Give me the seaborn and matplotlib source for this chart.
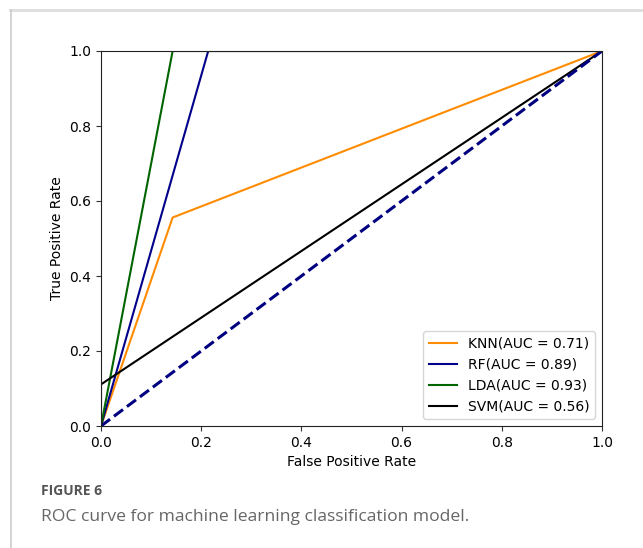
import matplotlib
matplotlib.use("Agg")
import matplotlib.pyplot as plt
from matplotlib.lines import Line2D
import seaborn as sns
import pandas as pd

# ROC data
knn_fpr = [0.0, 0.143, 1.0]
knn_tpr = [0.0, 0.556, 1.0]
rf_fpr = [0.0, 0.214, 1.0]
rf_tpr = [0.0, 1.0, 1.0]
lda_fpr = [0.0, 0.143, 1.0]
lda_tpr = [0.0, 1.0, 1.0]
svm_fpr = [0.0, 0.0, 1.0]
svm_tpr = [0.0, 0.111, 1.0]
chance_x = [0.0, 1.0]
chance_y = [0.0, 1.0]

labels = ["KNN(AUC = 0.71)", "RF(AUC = 0.89)", "LDA(AUC = 0.93)", "SVM(AUC = 0.56)"]
colors = ["darkorange", "darkblue", "darkgreen", "black"]
series = [(knn_fpr, knn_tpr), (rf_fpr, rf_tpr), (lda_fpr, lda_tpr), (svm_fpr, svm_tpr)]

fig = plt.figure(figsize=(6.43, 5.48), dpi=100)
# card borders
fig.add_artist(Line2D([10/643, 1.0], [1 - 10/548, 1 - 10/548], color="#dddddd", lw=2))
fig.add_artist(Line2D([11/643, 11/643], [0.0, 1 - 10/548], color="#cccccc", lw=1.2))

ax = fig.add_axes([101/643, 1 - 426/548, 501/643, 375/548])

for (fx, ty), lab, col in zip(series, labels, colors):
    df = pd.DataFrame({"fpr": fx, "tpr": ty})
    sns.lineplot(data=df, x="fpr", y="tpr", ax=ax, color=col, lw=1.5,
                 sort=False, estimator=None, label=lab)

dfc = pd.DataFrame({"x": chance_x, "y": chance_y})
sns.lineplot(data=dfc, x="x", y="y", ax=ax, color="navy", lw=2.2,
             linestyle="--", sort=False, estimator=None)

ax.set_xlim(0.0, 1.0)
ax.set_ylim(0.0, 1.0)
ax.set_xticks([0.0, 0.2, 0.4, 0.6, 0.8, 1.0])
ax.set_yticks([0.0, 0.2, 0.4, 0.6, 0.8, 1.0])
ax.tick_params(labelsize=10, color="#333333")
for s in ax.spines.values():
    s.set_color("#222222")
ax.set_xlabel("False Positive Rate", fontsize=10)
ax.set_ylabel("True Positive Rate", fontsize=10)
ax.legend(loc="lower right", fontsize=10)

fig.text(41/643, 1 - 491/548, "FIGURE 6", fontsize=10, color="#555555",
         fontweight="bold", family="Open Sans", va="center")
fig.text(41/643, 1 - 517/548, "ROC curve for machine learning classification model.",
         fontsize=12.6, color="#666666", family="Open Sans", va="center")

fig.savefig("out.png", dpi=100)
